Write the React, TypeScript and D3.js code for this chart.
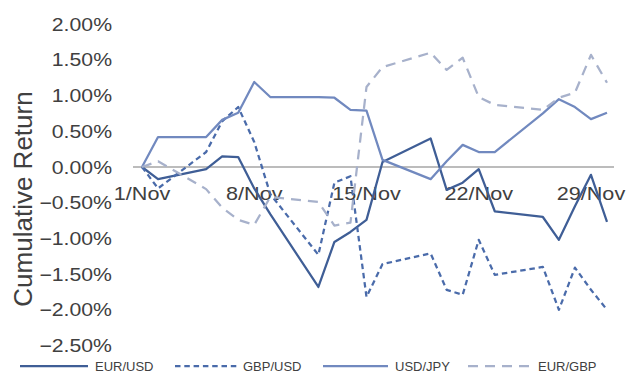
import React from "react";
import * as d3 from "d3";

const dates = ["2018-11-01","2018-11-02","2018-11-05","2018-11-06","2018-11-07","2018-11-08","2018-11-09","2018-11-12","2018-11-13","2018-11-14","2018-11-15","2018-11-16","2018-11-19","2018-11-20","2018-11-21","2018-11-22","2018-11-23","2018-11-26","2018-11-27","2018-11-28","2018-11-29","2018-11-30"];
const eurUsd = [0, -0.17, -0.03, 0.15, 0.14, -0.30, -0.66, -1.68, -1.05, -0.91, -0.74, 0.07, 0.40, -0.32, -0.22, -0.03, -0.62, -0.70, -1.02, -0.55, -0.11, -0.77];
const gbpUsd = [0, -0.30, 0.21, 0.64, 0.84, 0.35, -0.38, -1.23, -0.22, -0.13, -1.82, -1.36, -1.21, -1.72, -1.79, -1.02, -1.51, -1.40, -2.00, -1.41, -1.72, -2.00];
const usdJpy = [0, 0.42, 0.42, 0.66, 0.76, 1.19, 0.98, 0.98, 0.97, 0.80, 0.79, 0.10, -0.17, 0.08, 0.31, 0.21, 0.21, 0.75, 0.95, 0.84, 0.67, 0.76];
const eurGbp = [0, 0.08, -0.31, -0.57, -0.74, -0.81, -0.42, -0.49, -0.82, -0.78, 1.12, 1.40, 1.60, 1.36, 1.53, 0.98, 0.87, 0.80, 0.97, 1.04, 1.57, 1.18];
const yTicks = [2.0, 1.5, 1.0, 0.5, 0, -0.5, -1.0, -1.5, -2.0, -2.5];
const xTickDates = ["2018-11-01","2018-11-08","2018-11-15","2018-11-22","2018-11-29"];
const seriesNames = ["EUR/USD", "GBP/USD", "USD/JPY", "EUR/GBP"];

const parse = d3.utcParse("%Y-%m-%d");
const fmtX = d3.utcFormat("%-d/%b");

const series = [
  { name: seriesNames[0], values: eurUsd, color: "#3F5E96", dash: "none" },
  { name: seriesNames[1], values: gbpUsd, color: "#4A6BAA", dash: "5.5,3.8" },
  { name: seriesNames[2], values: usdJpy, color: "#7189BF", dash: "none" },
  { name: seriesNames[3], values: eurGbp, color: "#A7B1CB", dash: "10,7" },
];

export default function App() {
  const x = d3.scaleUtc()
    .domain([parse("2018-11-01")!, parse("2018-11-30")!])
    .range([142, 607]);
  const y = d3.scaleLinear().domain([-2.5, 2.0]).range([345.5, 24.2]);
  const line = d3.line<[Date, number]>()
    .x((d) => x(d[0]))
    .y((d) => y(d[1]));
  const font = "'Liberation Sans', Arial, sans-serif";
  const textColor = "#404040";

  const legendItems = [
    { x0: 20, x1: 88, tx: 95 },
    { x0: 175, x1: 237, tx: 243 },
    { x0: 323, x1: 388, tx: 395 },
    { x0: 468, x1: 530, tx: 538 },
  ];

  return (
    <svg width={626} height={372} style={{ position: "absolute", left: 0, top: 0, background: "#fff" }}>
      <rect x={0} y={0} width={626} height={372} fill="#fff" />
      {/* zero line */}
      <line x1={133} x2={614} y1={y(0)} y2={y(0)} stroke="#A6A6A6" strokeWidth={1.5} />
      {/* y tick labels */}
      {yTicks.map((t) => (
        <text
          key={t}
          transform={`translate(112,${y(t) + 6.5}) scale(1.18,1)`}
          textAnchor="end"
          fontFamily={font}
          fontSize={18}
          fill={textColor}
        >
          {d3.format(".2f")(t) + "%"}
        </text>
      ))}
      {/* x tick labels */}
      {xTickDates.map((d) => (
        <text
          key={d}
          transform={`translate(${x(parse(d)!)},200) scale(1.2,1)`}
          textAnchor="middle"
          fontFamily={font}
          fontSize={18}
          fill={textColor}
        >
          {fmtX(parse(d)!)}
        </text>
      ))}
      {/* y axis title */}
      <text
        transform="translate(32,199) rotate(-90)"
        textAnchor="middle"
        fontFamily={font}
        fontSize={26}
        fill={textColor}
      >
        Cumulative Return
      </text>
      {/* series */}
      {series.map((s) => (
        <path
          key={s.name}
          d={line(dates.map((d, i) => [parse(d)!, s.values[i]] as [Date, number])) || ""}
          fill="none"
          stroke={s.color}
          strokeWidth={2.25}
          strokeDasharray={s.dash}
          strokeLinejoin="round"
        />
      ))}
      {/* legend */}
      {series.map((s, i) => (
        <g key={"lg" + s.name}>
          <line
            x1={legendItems[i].x0}
            x2={legendItems[i].x1}
            y1={366}
            y2={366}
            stroke={s.color}
            strokeWidth={2.25}
            strokeDasharray={s.dash}
          />
          <text x={legendItems[i].tx} y={370.5} fontFamily={font} fontSize={13} fill={textColor}>
            {s.name}
          </text>
        </g>
      ))}
    </svg>
  );
}
